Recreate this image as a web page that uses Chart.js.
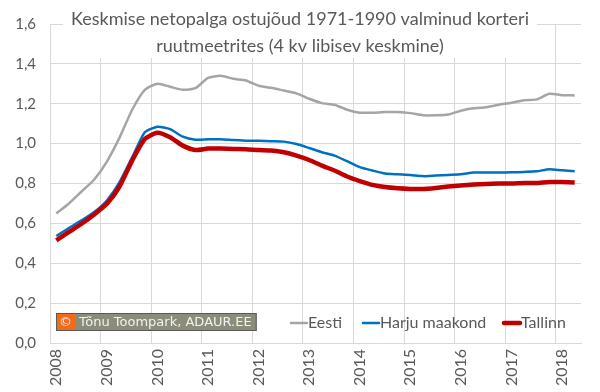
<!DOCTYPE html>
<html lang="et">
<head>
<meta charset="utf-8">
<title>Keskmise netopalga ostujõud</title>
<script src="https://cdn.jsdelivr.net/npm/chart.js@4.4.1/dist/chart.umd.min.js"></script>
<style>
  html, body { margin: 0; padding: 0; background: #fff; }
  #wrap { width: 600px; height: 392px; }
</style>
</head>
<body>
<div id="wrap"><canvas id="chart" width="600" height="392"></canvas></div>
<script>
'use strict';

/* ============================================================
   DATA
   ============================================================ */
const years = ['2008', '2009', '2010', '2011', '2012', '2013', '2014', '2015', '2016', '2017', '2018'];
const titleLines = [
  'Keskmise netopalga ostujõud 1971-1990 valminud korteri',
  'ruutmeetrites (4 kv libisev keskmine)'
];
const seriesNames = ['Eesti', 'Harju maakond', 'Tallinn'];
const watermark = 'Tõnu Toompark, ADAUR.EE';

// quarterly values, 2008 I kv ... 2018 II kv
const eesti = [
  0.650, 0.700, 0.760, 0.820, 0.910, 1.030, 1.170, 1.270, 1.300, 1.285, 1.270, 1.278,
  1.330, 1.340, 1.325, 1.317, 1.290, 1.280, 1.266, 1.252, 1.225, 1.203, 1.195, 1.170,
  1.155, 1.155, 1.158, 1.158, 1.153, 1.142, 1.142, 1.146, 1.165, 1.177, 1.183, 1.195,
  1.205, 1.218, 1.222, 1.250, 1.243, 1.242
];
const harju = [
  0.537, 0.577, 0.615, 0.657, 0.715, 0.807, 0.932, 1.057, 1.085, 1.073, 1.035, 1.020,
  1.022, 1.022, 1.018, 1.015, 1.014, 1.012, 1.010, 0.998, 0.978, 0.957, 0.940, 0.912,
  0.882, 0.865, 0.850, 0.846, 0.843, 0.837, 0.840, 0.843, 0.846, 0.855, 0.855, 0.855,
  0.856, 0.858, 0.861, 0.872, 0.866, 0.862
];
const tallinn = [
  0.515, 0.557, 0.598, 0.645, 0.698, 0.785, 0.915, 1.023, 1.055, 1.032, 0.990, 0.968,
  0.975, 0.975, 0.973, 0.972, 0.968, 0.966, 0.957, 0.940, 0.918, 0.890, 0.865, 0.835,
  0.812, 0.793, 0.782, 0.776, 0.773, 0.773, 0.778, 0.785, 0.790, 0.795, 0.798, 0.800,
  0.800, 0.803, 0.803, 0.808, 0.807, 0.805
];

const quarters = years
  .flatMap(y => ['I', 'II', 'III', 'IV'].map(q => `${y} ${q} kv`))
  .slice(0, eesti.length);

/* ---- STYLE ------------------------------------------------- */
const FONT = 'Lato';
const TEXT = '#595959';
const GRID = '#d9d9d9';

/* ============================================================
   OVERLAY: title in plot area, inline legend, watermark
   ============================================================ */
const overlayPlugin = {
  id: 'overlay',

  beforeDatasetsDraw(chart) {
    const { ctx } = chart;
    const cx = 300;
    ctx.save();
    ctx.font = `18px ${FONT}`;
    const w = Math.max(...titleLines.map(t => ctx.measureText(t).width));
    ctx.fillStyle = '#fff';
    ctx.fillRect(cx - w / 2 - 8, 4, w + 16, 54);
    ctx.fillStyle = TEXT;
    ctx.textAlign = 'center';
    ctx.textBaseline = 'middle';
    titleLines.forEach((t, i) => ctx.fillText(t, cx, 19 + i * 27));
    ctx.restore();
  },

  afterDraw(chart) {
    const { ctx } = chart;
    ctx.save();

    // legend
    const legendY = 323;
    const legendX = [290, 362, 503];
    ctx.font = `16px ${FONT}`;
    ctx.textBaseline = 'middle';
    chart.data.datasets.forEach((ds, i) => {
      const x = legendX[i];
      ctx.strokeStyle = ds.borderColor;
      ctx.lineWidth = ds.borderWidth;
      ctx.lineCap = 'round';
      ctx.beginPath();
      ctx.moveTo(x + 1, legendY);
      ctx.lineTo(x + 17, legendY);
      ctx.stroke();
      ctx.fillStyle = TEXT;
      ctx.fillText(ds.label, x + 18, legendY);
    });

    // watermark
    const bx = 56, by = 313, bh = 18;
    ctx.font = `13px "DejaVu Sans"`;
    const tw = ctx.measureText(watermark).width;
    ctx.fillStyle = '#8c8c7a';
    ctx.fillRect(bx, by, tw + 28, bh);
    ctx.fillStyle = '#f26b1d';
    ctx.fillRect(bx + 1, by + 1, 19, bh - 2);
    ctx.strokeStyle = '#595959';
    ctx.lineWidth = 1;
    ctx.strokeRect(bx + 0.5, by + 0.5, tw + 27, bh - 1);
    ctx.fillStyle = '#f2f2f2';
    ctx.textBaseline = 'middle';
    ctx.fillText('©', bx + 3, by + bh / 2 + 1);
    ctx.fillText(watermark, bx + 23, by + bh / 2 + 1);

    ctx.restore();
  }
};

/* ============================================================
   CHART
   ============================================================ */
const line = (label, data, color, width, order) => ({
  label, data,
  borderColor: color,
  backgroundColor: color,
  borderWidth: width,
  pointRadius: 0,
  tension: 0.2,
  order
});

new Chart(document.getElementById('chart'), {
  type: 'line',
  data: {
    labels: quarters,
    datasets: [
      line(seriesNames[0], eesti, '#a5a5a5', 2.5, 3),
      line(seriesNames[1], harju, '#0070c0', 2.5, 2),
      line(seriesNames[2], tallinn, '#c00000', 4.5, 1)
    ]
  },
  options: {
    responsive: false,
    animation: false,
    layout: { padding: { top: 24, right: 9, left: 0, bottom: 0 } },
    plugins: {
      legend: { display: false },
      title: { display: false },
      tooltip: { enabled: false }
    },
    scales: {
      x: {
        type: 'category',
        offset: true,
        grid: {
          offset: true,
          drawTicks: false,
          color: c => (c.index % 4 === 0 ? GRID : 'rgba(0,0,0,0)')
        },
        border: { color: GRID },
        ticks: {
          autoSkip: false,
          maxRotation: 90,
          minRotation: 90,
          padding: 6,
          color: TEXT,
          font: { family: FONT, size: 16 },
          callback: (v, i) => (i % 4 === 0 ? years[i / 4] : '')
        },
        afterFit: s => { s.height = 49; }
      },
      y: {
        min: 0,
        max: 1.6,
        grid: { color: GRID, drawTicks: false },
        border: { display: false },
        ticks: {
          stepSize: 0.2,
          padding: 14,
          color: TEXT,
          font: { family: FONT, size: 15 },
          callback: v => v.toFixed(1).replace('.', ',')
        },
        afterFit: s => { s.width = 50; }
      }
    }
  },
  plugins: [overlayPlugin]
});
</script>
</body>
</html>
